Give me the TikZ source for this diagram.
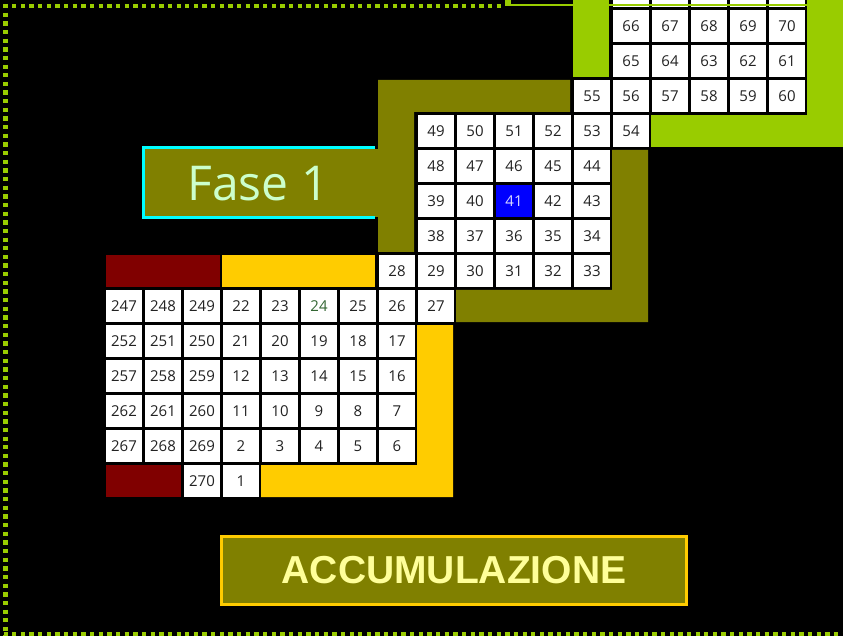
\documentclass[tikz,border=0pt]{standalone}
\usepackage{fontspec}
\setmainfont{Open Sans}
\newfontfamily\accfont{Liberation Sans}
\definecolor{lime}{HTML}{99CC00}
\definecolor{olivex}{HTML}{808000}
\definecolor{maroonx}{HTML}{800000}
\definecolor{goldx}{HTML}{FFCC00}
\definecolor{cyanx}{HTML}{00FFFF}
\definecolor{palegreen}{HTML}{CCFFCC}
\definecolor{paleyellow}{HTML}{FFFF99}
\definecolor{numgray}{HTML}{222222}
\definecolor{numgreen}{HTML}{336633}
\begin{document}
\begin{tikzpicture}[x=1pt,y=-1pt,
  cell/.style={rectangle, fill=white, minimum width=36pt, minimum height=32pt, inner sep=0pt,
    text=numgray, font=\fontsize{15}{18}\selectfont},
  bluecell/.style={cell, fill=blue, text=white!85!blue},
  greencell/.style={cell, text=numgreen},
  band/.style={draw=none},
  dotline/.style={draw=lime, line width=4.3pt, dash pattern=on 4.3pt off 4.35pt}]
\useasboundingbox (0,0) rectangle (843,636);
\fill[black] (0,0) rectangle (843,636);

% coloured bands
\fill[maroonx] (106,255) rectangle (220,287);
\fill[maroonx] (106,465) rectangle (181,497);
\fill[goldx] (222,255) rectangle (375,287);
\fill[goldx] (417,325) -- (453,325) -- (453,497) -- (261,497) -- (261,465) -- (417,465) -- cycle;
\fill[olivex] (378,80) -- (570,80) -- (570,112) -- (414,112) -- (414,252) -- (378,252) -- cycle;
\fill[olivex] (612,150) -- (648,150) -- (648,322) -- (456,322) -- (456,290) -- (612,290) -- cycle;
\fill[lime] (573,0) rectangle (609,77);
\fill[lime] (807,0) rectangle (843,147);
\fill[lime] (651,115) rectangle (843,147);

% Fase 1 box
\fill[olivex] (145,149) rectangle (379,217);
\draw[cyanx, line width=3pt] (375,147.5) -- (143.5,147.5) -- (143.5,217.5) -- (375,217.5);
\node[text=palegreen, font=\fontsize{48}{56}\selectfont, inner sep=0pt, anchor=base] (fase) at (258,201) {Fase 1};

% cells
\foreach \lab/\c/\r in {
  247/0/0,248/1/0,249/2/0,22/3/0,23/4/0,25/6/0,26/7/0,27/8/0,
  252/0/1,251/1/1,250/2/1,21/3/1,20/4/1,19/5/1,18/6/1,17/7/1,
  257/0/2,258/1/2,259/2/2,12/3/2,13/4/2,14/5/2,15/6/2,16/7/2,
  262/0/3,261/1/3,260/2/3,11/3/3,10/4/3,9/5/3,8/6/3,7/7/3,
  267/0/4,268/1/4,269/2/4,2/3/4,3/4/4,4/5/4,5/6/4,6/7/4,
  270/2/5,1/3/5,
  28/7/-1,29/8/-1,30/9/-1,31/10/-1,32/11/-1,33/12/-1,
  38/8/-2,37/9/-2,36/10/-2,35/11/-2,34/12/-2,
  39/8/-3,40/9/-3,42/11/-3,43/12/-3,
  48/8/-4,47/9/-4,46/10/-4,45/11/-4,44/12/-4,
  49/8/-5,50/9/-5,51/10/-5,52/11/-5,53/12/-5,54/13/-5,
  55/12/-6,56/13/-6,57/14/-6,58/15/-6,59/16/-6,60/17/-6,
  65/13/-7,64/14/-7,63/15/-7,62/16/-7,61/17/-7,
  66/13/-8,67/14/-8,68/15/-8,69/16/-8,70/17/-8}
  \node[cell] (n\lab) at ({124+39*\c},{306+35*\r}) {\lab};
\node[greencell] (n24) at ({124+39*5},306) {24};
\node[bluecell] (n41) at ({124+39*10},{306-35*3}) {41};
\foreach \c in {13,...,17}
  \node[cell] (e\c) at ({124+39*\c},{306-35*9}) {};

% top lime line
\fill[lime] (505,0) rectangle (511,6);
\fill[lime] (505,4) rectangle (843,6.5);

% dotted border
\draw[dotline] (3.5,6) -- (505,6);
\draw[dotline] (5.5,4) -- (5.5,636);
\draw[dotline] (3.5,634) -- (843,634);

% ACCUMULAZIONE box
\node[draw=goldx, line width=3pt, fill=olivex, minimum width=465pt, minimum height=68pt, inner sep=0pt,
  text=paleyellow, font=\accfont\bfseries\fontsize{39}{44}\selectfont] (acc) at (454,570.5) {ACCUMULAZIONE};
\end{tikzpicture}
\end{document}
